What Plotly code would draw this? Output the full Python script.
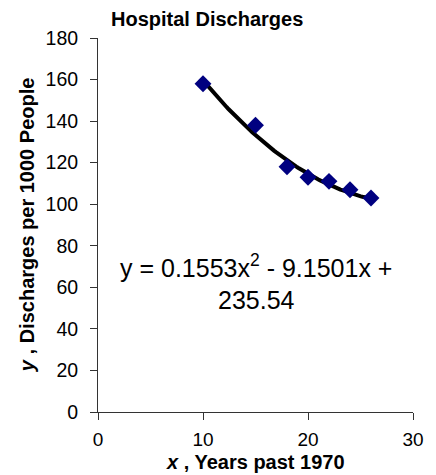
import numpy as np
import plotly.graph_objects as go

years = [10, 15, 18, 20, 22, 24, 26]
discharges = [158, 138, 118, 113, 111, 107, 103]
coefs = [0.1553, -9.1501, 235.54]  # quadratic trendline shown on chart
x_ticks = [0, 10, 20, 30]
y_ticks = [0, 20, 40, 60, 80, 100, 120, 140, 160, 180]

xt = np.linspace(min(years), max(years), 100)
yt = np.polyval(coefs, xt)

FONT = "Liberation Sans, Arial"

fig = go.Figure()
fig.add_trace(go.Scatter(x=xt, y=yt, mode="lines",
                         line=dict(color="black", width=4), showlegend=False))
fig.add_trace(go.Scatter(x=years, y=discharges, mode="markers",
                         marker=dict(symbol="diamond", size=13, color="#000080"),
                         showlegend=False))

# trendline equation
fig.add_annotation(x=0.503, y=0.348, xref="paper", yref="paper",
                   text="y = 0.1553x<sup>2</sup> - 9.1501x +<br>235.54",
                   showarrow=False, align="center",
                   font=dict(family=FONT, size=25, color="black"))
# chart title
fig.add_annotation(x=0.347, y=1.05, xref="paper", yref="paper",
                   text="<b>Hospital Discharges</b>", showarrow=False,
                   xanchor="center", yanchor="middle",
                   font=dict(family=FONT, size=20, color="black"))
# axis titles
fig.add_annotation(x=0.5, y=-0.134, xref="paper", yref="paper",
                   text="<b><i>x</i> , Years past 1970</b>", showarrow=False,
                   xanchor="center", yanchor="middle",
                   font=dict(family=FONT, size=20, color="black"))
fig.add_annotation(x=-0.225, y=0.5, xref="paper", yref="paper",
                   text="<b><i>y</i> , Discharges per 1000 People</b>", showarrow=False,
                   textangle=-90, xanchor="center", yanchor="middle",
                   font=dict(family=FONT, size=20, color="black"))

fig.update_layout(
    width=428, height=467,
    margin=dict(l=90, r=18, t=30, b=63),
    paper_bgcolor="white", plot_bgcolor="white",
    font=dict(family=FONT, color="black"),
    xaxis=dict(range=[0, 30], tickvals=x_ticks, showgrid=False, zeroline=False,
               showline=True, linecolor="#333", linewidth=1,
               ticks="outside", ticklen=7, tickcolor="#333",
               ticklabelstandoff=3,
               tickfont=dict(size=19)),
    yaxis=dict(range=[0, 180], tickvals=y_ticks, showgrid=False, zeroline=False,
               showline=True, linecolor="#333", linewidth=1,
               ticks="outside", ticklen=7, tickcolor="#333",
               ticklabelstandoff=8,
               tickfont=dict(size=19.5)),
)

fig.write_html("out.html")
